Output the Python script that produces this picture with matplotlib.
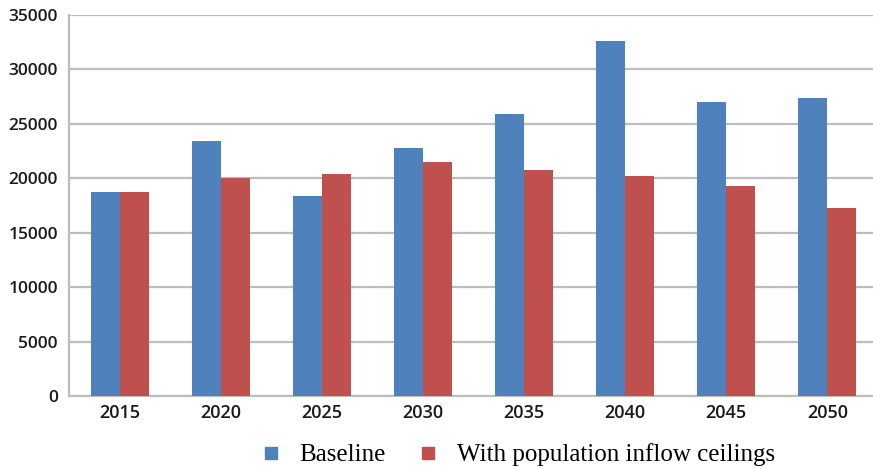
import matplotlib
matplotlib.use("Agg")
import matplotlib.pyplot as plt
from matplotlib.lines import Line2D
import numpy as np

years = ["2015", "2020", "2025", "2030", "2035", "2040", "2045", "2050"]
baseline = [18700, 23400, 18400, 22800, 25900, 32600, 27000, 27400]
ceilings = [18700, 20000, 20400, 21500, 20800, 20200, 19300, 17300]
series_names = ["Baseline", "With population inflow ceilings"]

blue = "#4f81bd"
red = "#c0504d"

fig = plt.figure(figsize=(8.73, 4.69), dpi=100)
ax = fig.add_axes([69 / 873, 1 - 396 / 469, 809 / 873, 381 / 469])

x = np.arange(len(years))
w = 0.287
ax.bar(x - w / 2, baseline, width=w, color=blue, zorder=3)
ax.bar(x + w / 2, ceilings, width=w, color=red, zorder=3)

ax.set_xlim(-0.5, len(years) - 0.5)
ax.set_ylim(0, 35000)
ax.set_yticks(np.arange(0, 35001, 5000))
ax.set_xticks(x)
ax.set_xticklabels(years)

ax.grid(axis="y", color="#bdbdbd", linewidth=1.6, zorder=0)
for side in ["top", "right"]:
    ax.spines[side].set_visible(False)
for side in ["left", "bottom"]:
    ax.spines[side].set_color("#bdbdbd")
    ax.spines[side].set_linewidth(1.6)
ax.tick_params(axis="both", length=0, colors="#1a1a1a")
ax.tick_params(axis="y", pad=8, labelsize=12.5)
ax.tick_params(axis="x", pad=6, labelsize=13)
for lbl in ax.get_xticklabels() + ax.get_yticklabels():
    lbl.set_fontfamily("Open Sans")
    lbl.set_fontweight("semibold")

handles = [
    Line2D([], [], marker="s", linestyle="none", markersize=8,
           markerfacecolor=blue, markeredgecolor=blue),
    Line2D([], [], marker="s", linestyle="none", markersize=8,
           markerfacecolor=red, markeredgecolor=red),
]
fig.legend(handles, series_names, loc="center",
           bbox_to_anchor=(518 / 873, 1 - 455 / 469), ncol=2, frameon=False,
           prop={"family": "Liberation Serif", "size": 18},
           handletextpad=0.75, columnspacing=1.3, handlelength=0.8)

fig.savefig("out.png", dpi=100)
